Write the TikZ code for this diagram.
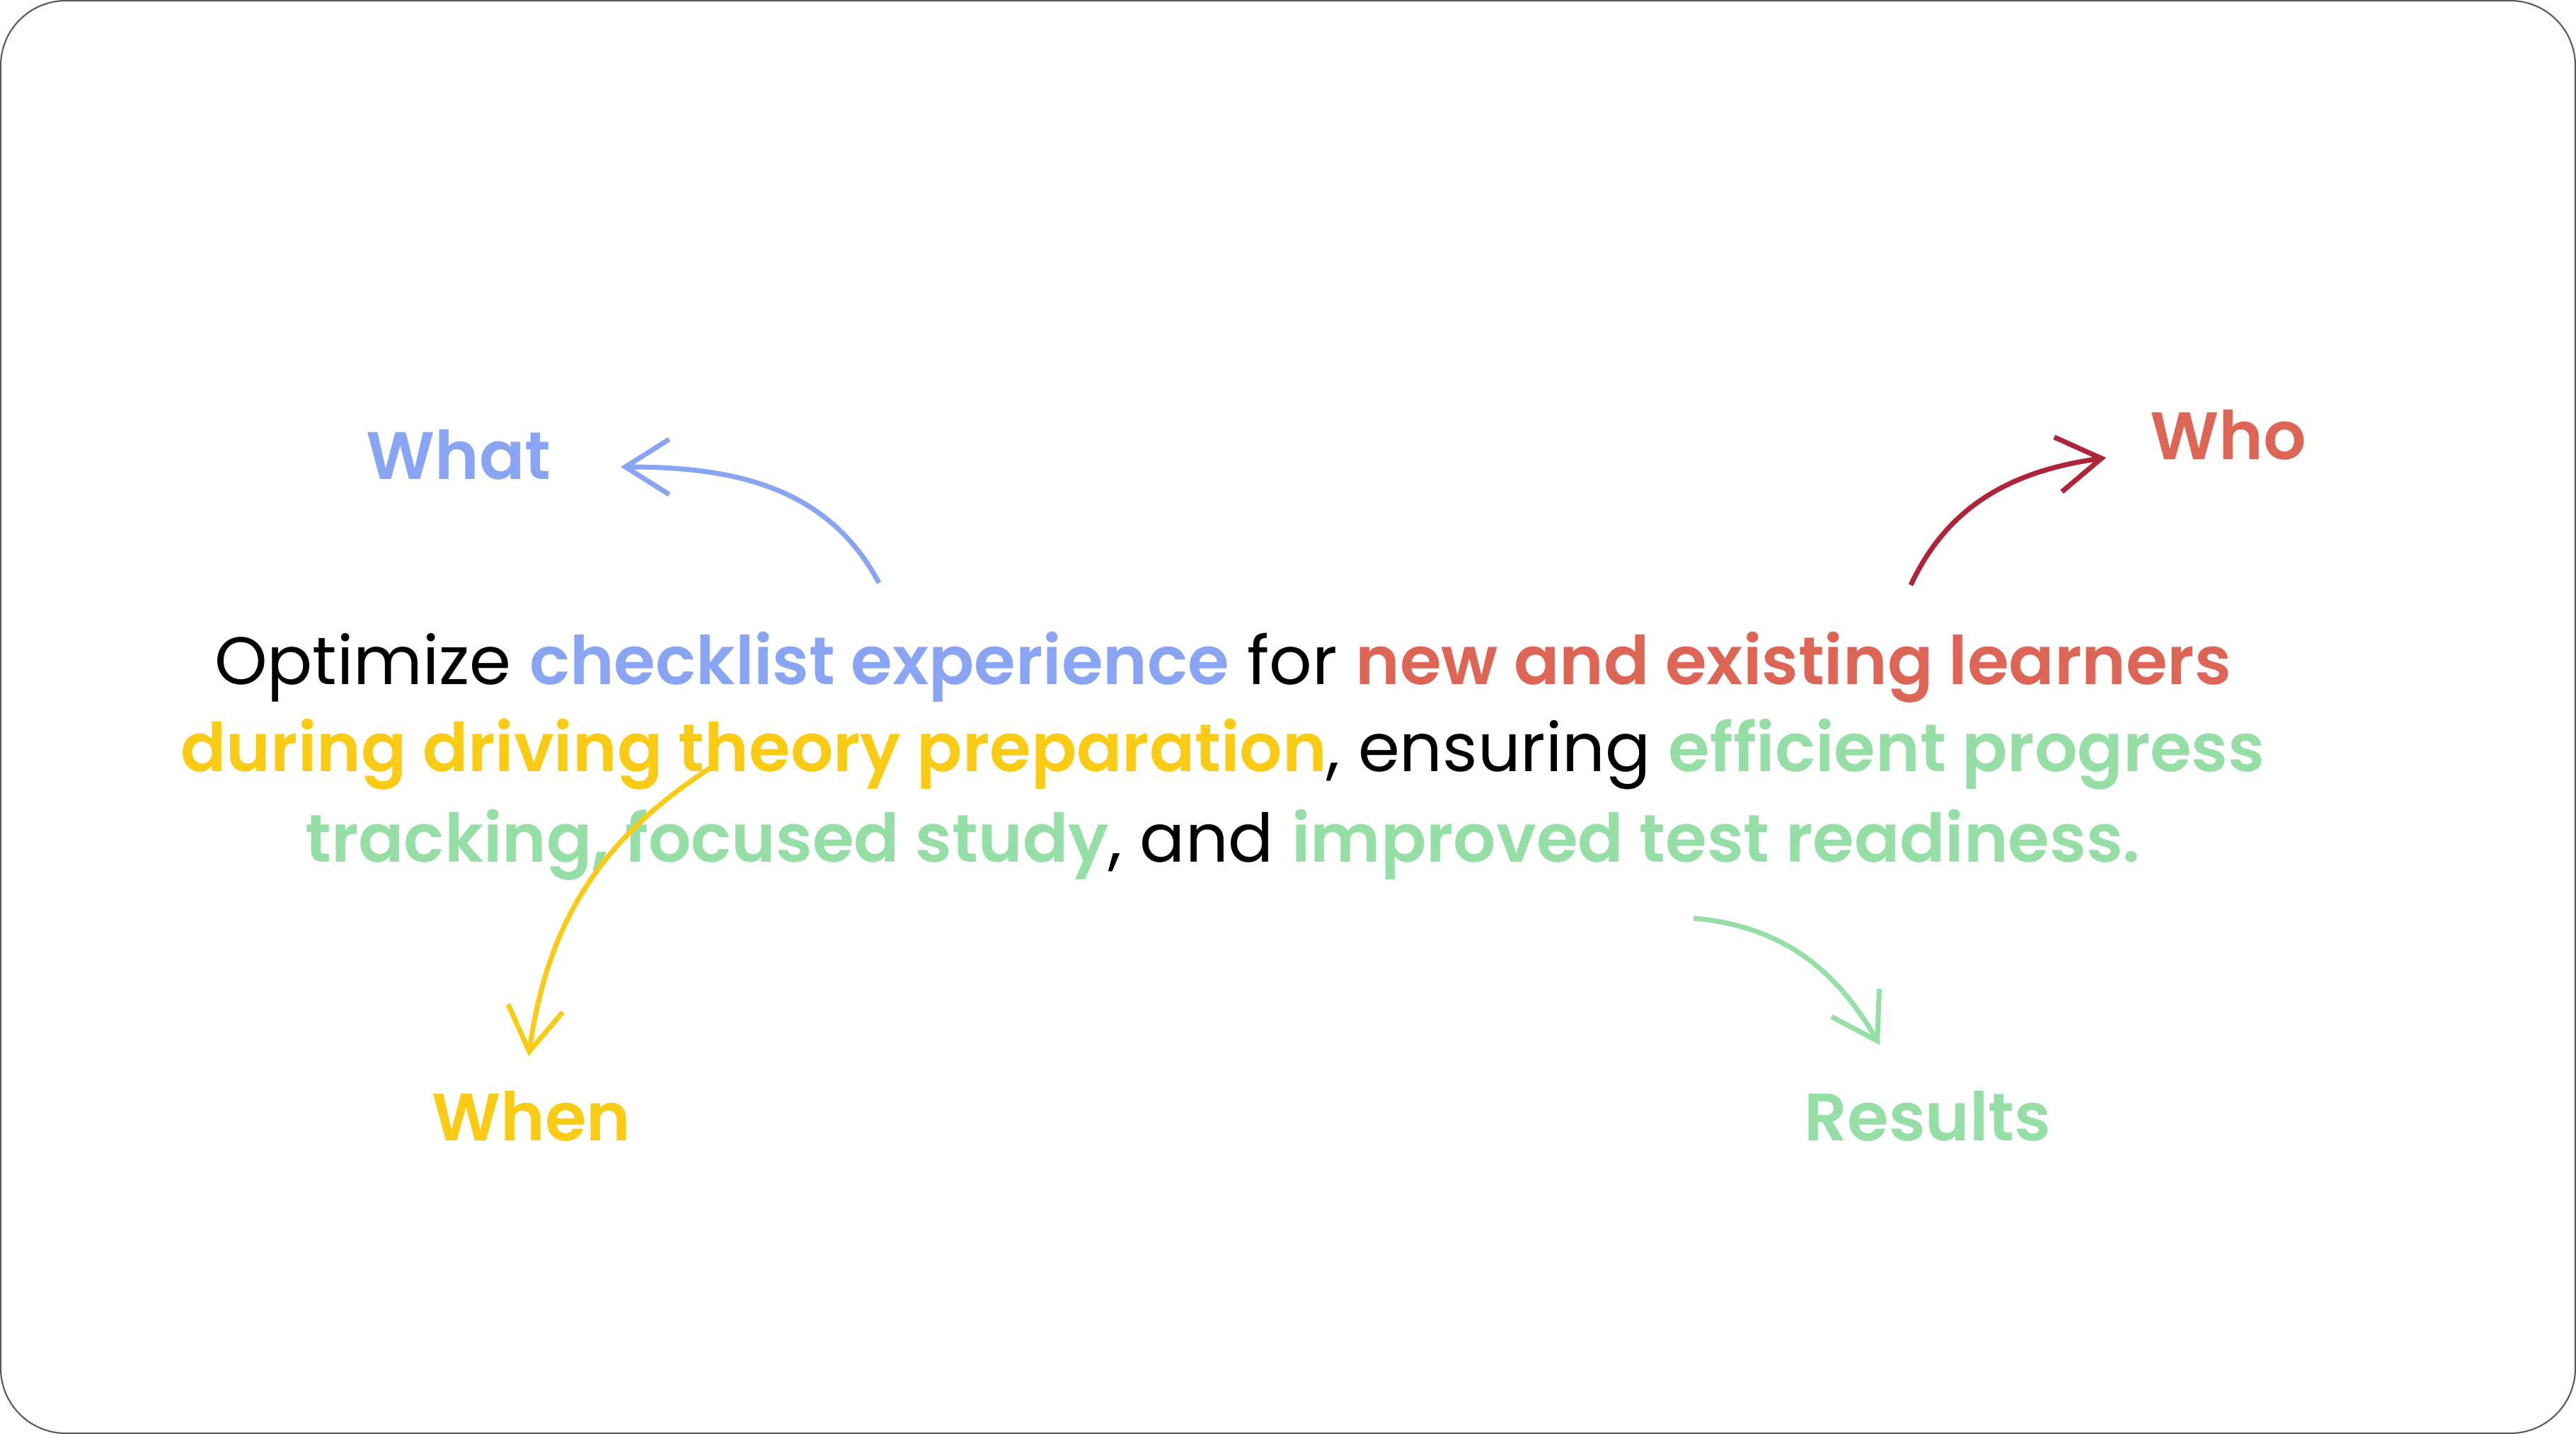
\documentclass[tikz,border=0pt]{standalone}
\usepackage{fontspec}
\setmainfont{Poppins}[BoldFont={Poppins SemiBold}]
\usetikzlibrary{arrows.meta}

\definecolor{whatblue}{RGB}{137,164,242}
\definecolor{whored}{RGB}{221,101,85}
\definecolor{whoarrow}{RGB}{176,36,58}
\definecolor{whenyellow}{RGB}{249,203,21}
\definecolor{resultgreen}{RGB}{149,222,165}
\definecolor{frame}{RGB}{90,90,90}

\begin{document}
\begin{tikzpicture}[
        line/.style={anchor=base, inner sep=0pt, font=\fontsize{27}{32}\selectfont},
        label/.style={anchor=base, inner sep=0pt, font=\fontsize{27}{32}\selectfont\bfseries},
        link/.style={line width=2pt, -{Straight Barb[length=6.2mm, width=7.8mm, line width=2pt]}},
    ]
    \useasboundingbox (0,0) rectangle (36.4,20.27);
    \draw[frame, line width=0.6pt, rounded corners=0.92cm] (0.01,0.01) rectangle (36.39,20.26);

    %====================== sentence ======================
    \node[line] (line1) at (17.28, 10.59) {Optimize \textbf{\textcolor{whatblue}{checklist experience}} for \textbf{\textcolor{whored}{new and existing learners}}};
    \node[line] (line2) at (17.28, 9.36) {\textbf{\textcolor{whenyellow}{during driving theory preparation}}, ensuring \textbf{\textcolor{resultgreen}{efficient progress}}};
    \node[line] (line3) at (17.28, 8.08) {\textbf{\textcolor{resultgreen}{tracking, focused study}}, and \textbf{\textcolor{resultgreen}{improved test readiness.}}};

    %====================== labels ======================
    \node[label, text=whatblue]    (what)    at (6.48, 13.49)  {What};
    \node[label, text=whored]      (who)     at (31.49, 13.77) {Who};
    \node[label, text=whenyellow]  (when)    at (7.51, 4.14)   {When};
    \node[label, text=resultgreen] (results) at (27.24, 4.14)  {Results};

    %====================== arrows ======================
    \coordinate (what-from)    at (12.42, 12.03);
    \coordinate (what-to)      at (8.77, 13.67);
    \coordinate (who-from)     at (27.00, 12.00);
    \coordinate (who-to)       at (29.76, 13.80);
    \coordinate (when-from)    at (10.03, 9.41);
    \coordinate (when-to)      at (7.47, 5.34);
    \coordinate (results-from) at (23.93, 7.29);
    \coordinate (results-to)   at (26.56, 5.50);

    \draw[link, whatblue]    (what-from)    to[out=118, in=0]   (what-to);
    \draw[link, whoarrow]    (who-from)     to[out=65, in=188]  (who-to);
    \draw[link, whenyellow]  (when-from)    to[out=213, in=82]  (when-to);
    \draw[link, resultgreen] (results-from) to[out=-5, in=120]  (results-to);

\end{tikzpicture}
\end{document}
